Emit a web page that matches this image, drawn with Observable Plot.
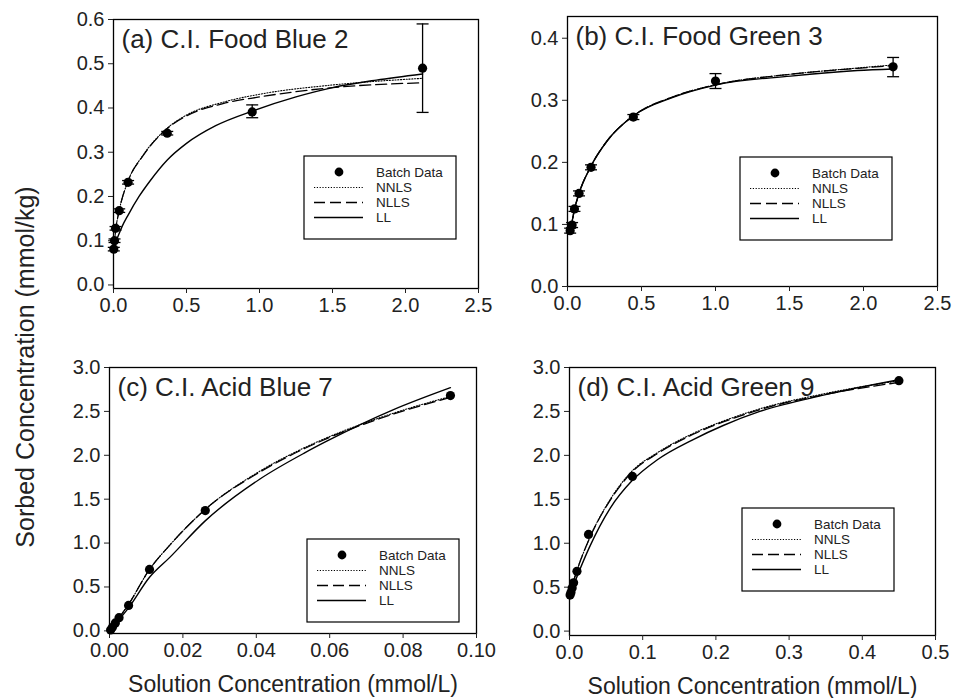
<!DOCTYPE html>
<html><head><meta charset="utf-8">
<script src="https://cdn.jsdelivr.net/npm/d3@7"></script>
<script src="https://cdn.jsdelivr.net/npm/@observablehq/plot@0.6"></script>
<style>
body{margin:0;background:#fff;}
#fig{position:relative;width:953px;height:698px;font-family:"Liberation Sans",Arial,sans-serif;background:#fff;}
.panel{position:absolute;}
.panel svg{overflow:visible;}
</style></head><body><div id="fig"></div>
<script>
// ---------- data ----------
const legendLabels = ["Batch Data", "NNLS", "NLLS", "LL"];
const yAxisLabel = "Sorbed Concentration (mmol/kg)";
const xAxisLabel = "Solution Concentration (mmol/L)";

// (a) C.I. Food Blue 2
const aTitle = "(a) C.I. Food Blue 2";
const aX  = [0.002, 0.007, 0.014, 0.039, 0.100, 0.368, 0.950, 2.117];
const aY  = [0.081, 0.100, 0.128, 0.168, 0.232, 0.343, 0.391, 0.490];
const aLo = [0.077, 0.096, 0.124, 0.164, 0.228, 0.339, 0.378, 0.390];
const aHi = [0.085, 0.104, 0.132, 0.172, 0.236, 0.347, 0.407, 0.590];
const aNNLS = [[0,0.080],[0.007,0.100],[0.014,0.122],[0.039,0.168],[0.10,0.235],[0.2,0.292],[0.37,0.355],[0.5,0.384],[0.75,0.413],[1.0,0.431],[1.5,0.452],[2.117,0.467]];
const aNLLS = [[0,0.080],[0.007,0.100],[0.014,0.122],[0.039,0.168],[0.10,0.235],[0.2,0.291],[0.37,0.354],[0.5,0.382],[0.75,0.410],[1.0,0.425],[1.5,0.446],[2.117,0.457]];
const aLL   = [[0,0.085],[0.025,0.105],[0.06,0.133],[0.1,0.158],[0.175,0.200],[0.25,0.235],[0.37,0.283],[0.5,0.320],[0.7,0.360],[0.96,0.394],[1.25,0.425],[1.5,0.446],[1.8,0.463],[2.117,0.477]];
const aXTicks = [0, 0.5, 1.0, 1.5, 2.0, 2.5];
const aYTicks = [0, 0.1, 0.2, 0.3, 0.4, 0.5, 0.6];

// (b) C.I. Food Green 3
const bTitle = "(b) C.I. Food Green 3";
const bX  = [0.018, 0.031, 0.047, 0.078, 0.159, 0.445, 1.000, 2.200];
const bY  = [0.090, 0.099, 0.125, 0.150, 0.192, 0.273, 0.331, 0.354];
const bLo = [0.086, 0.095, 0.121, 0.146, 0.188, 0.269, 0.319, 0.338];
const bHi = [0.094, 0.103, 0.129, 0.154, 0.196, 0.277, 0.343, 0.369];
const bNNLS = [[0.007,0.085],[0.03,0.104],[0.047,0.124],[0.078,0.150],[0.159,0.194],[0.266,0.234],[0.445,0.275],[0.717,0.306],[1.0,0.325],[1.507,0.342],[1.958,0.352],[2.2,0.357]];
const bNLLS = [[0.007,0.085],[0.03,0.104],[0.047,0.124],[0.078,0.150],[0.159,0.194],[0.266,0.234],[0.445,0.275],[0.717,0.306],[1.0,0.325],[1.507,0.342],[1.958,0.3515],[2.2,0.356]];
const bLL   = [[0.007,0.085],[0.03,0.104],[0.047,0.124],[0.078,0.150],[0.159,0.194],[0.266,0.234],[0.445,0.275],[0.717,0.305],[1.0,0.3245],[1.507,0.339],[1.958,0.348],[2.2,0.3505]];
const bXTicks = [0, 0.5, 1.0, 1.5, 2.0, 2.5];
const bYTicks = [0, 0.1, 0.2, 0.3, 0.4];

// (c) C.I. Acid Blue 7
const cTitle = "(c) C.I. Acid Blue 7";
const cX = [0.0003, 0.0008, 0.0016, 0.0026, 0.0052, 0.0109, 0.0261, 0.0929];
const cY = [0.01, 0.04, 0.09, 0.15, 0.29, 0.70, 1.37, 2.68];
const cNNLS = [[0,0],[0.0026,0.15],[0.005,0.29],[0.0109,0.70],[0.0165,0.98],[0.026,1.38],[0.041,1.82],[0.0533,2.09],[0.0592,2.20],[0.0774,2.48],[0.0929,2.67]];
const cNLLS = [[0,0],[0.0026,0.15],[0.005,0.29],[0.0109,0.70],[0.0165,0.98],[0.026,1.38],[0.041,1.81],[0.0533,2.08],[0.0592,2.19],[0.0774,2.47],[0.0929,2.66]];
const cLL   = [[0,0],[0.0026,0.13],[0.005,0.25],[0.0109,0.61],[0.0165,0.84],[0.026,1.25],[0.041,1.73],[0.0533,2.03],[0.0592,2.16],[0.0774,2.52],[0.0929,2.77]];
const cXTicks = [0, 0.02, 0.04, 0.06, 0.08, 0.10];
const cYTicks = [0, 0.5, 1.0, 1.5, 2.0, 2.5, 3.0];

// (d) C.I. Acid Green 9
const dTitle = "(d) C.I. Acid Green 9";
const dX = [0.0008, 0.002, 0.0036, 0.0056, 0.0102, 0.026, 0.086, 0.450];
const dY = [0.41, 0.44, 0.49, 0.55, 0.68, 1.10, 1.76, 2.85];
const dNNLS = [[0,0.40],[0.0036,0.515],[0.0102,0.69],[0.027,1.05],[0.0557,1.50],[0.0853,1.82],[0.12,2.03],[0.169,2.25],[0.21,2.39],[0.26,2.53],[0.347,2.70],[0.45,2.85]];
const dNLLS = [[0,0.40],[0.0036,0.515],[0.0102,0.69],[0.027,1.05],[0.0557,1.49],[0.0853,1.81],[0.12,2.02],[0.169,2.24],[0.21,2.38],[0.26,2.52],[0.347,2.69],[0.45,2.83]];
const dLL   = [[0,0.40],[0.0036,0.48],[0.0102,0.62],[0.027,0.95],[0.0557,1.40],[0.0853,1.71],[0.12,1.95],[0.169,2.18],[0.21,2.34],[0.26,2.50],[0.347,2.685],[0.45,2.86]];
const dXTicks = [0, 0.1, 0.2, 0.3, 0.4, 0.5];
const dYTicks = [0, 0.5, 1.0, 1.5, 2.0, 2.5, 3.0];

// ---------- drawing ----------
const FONT = "'Liberation Sans', Arial, Helvetica, sans-serif";
const TXT = "#222";
const capSymbol = {draw(ctx, size){ const r = Math.sqrt(size/Math.PI); ctx.moveTo(-r,0); ctx.lineTo(r,0); }};
const STY = {nnls: "1.2,1.6", nlls: "11,5"};

function panel(o){
  const idx = d3.range(o.X.length);
  const marks = [
    Plot.frame({stroke:"#000", strokeWidth:1.3}),
    Plot.axisX({ticks:o.xTicks, tickFormat:d3.format(o.xFmt), tickSize:5, tickPadding:4, fontSize:20, color:TXT, label:null}),
    Plot.axisY({ticks:o.yTicks, tickFormat:d3.format(".1f"), tickSize:5, tickPadding:4, fontSize:20, color:TXT, label:null}),
    Plot.line(o.nnls, {x:d=>d[0], y:d=>d[1], curve:"monotone-x", stroke:"#000", strokeWidth:1.1, strokeDasharray:STY.nnls}),
    Plot.line(o.nlls, {x:d=>d[0], y:d=>d[1], curve:"monotone-x", stroke:"#000", strokeWidth:1.3, strokeDasharray:STY.nlls}),
    Plot.line(o.ll,   {x:d=>d[0], y:d=>d[1], curve:"monotone-x", stroke:"#000", strokeWidth:1.4}),
  ];
  if (o.lo) {
    marks.push(Plot.ruleX(idx, {x:i=>o.X[i], y1:i=>o.lo[i], y2:i=>o.hi[i], stroke:"#000", strokeWidth:1.3}));
    marks.push(Plot.dot(idx, {x:i=>o.X[i], y:i=>o.lo[i], symbol:capSymbol, r:6, stroke:"#000", strokeWidth:1.3, fill:"none"}));
    marks.push(Plot.dot(idx, {x:i=>o.X[i], y:i=>o.hi[i], symbol:capSymbol, r:6, stroke:"#000", strokeWidth:1.3, fill:"none"}));
  }
  marks.push(Plot.dot(idx, {x:i=>o.X[i], y:i=>o.Y[i], r:4.6, fill:"#000", stroke:"none"}));
  marks.push(Plot.text([o.title], {text:d=>d, frameAnchor:"top-left", textAnchor:"start", lineAnchor:"top", dx:8, dy:10, fontSize:26, fill:TXT}));
  if (o.xLabel) marks.push(Plot.text([o.xLabel], {text:d=>d, frameAnchor:"bottom", dy:58, fontSize:23, fill:TXT}));

  const svg = Plot.plot({
    width:o.w, height:o.h,
    marginLeft:o.m[0], marginTop:o.m[1], marginRight:o.m[2], marginBottom:o.m[3],
    x:{domain:o.xDomain}, y:{domain:o.yDomain},
    style:{fontFamily:FONT, background:"transparent", overflow:"visible", color:TXT},
    marks
  });
  // legend box
  const g = d3.select(svg).append("g").attr("font-family", FONT).attr("font-size", 13.5)
    .attr("fill", TXT).attr("text-anchor", "start");
  const L = o.leg[0], T = o.leg[1];
  g.append("rect").attr("x", L).attr("y", T).attr("width", 152).attr("height", 83)
    .attr("fill", "none").attr("stroke", "#000").attr("stroke-width", 1.2);
  const rowsY = [16, 31.5, 46.5, 61.5];
  g.append("circle").attr("cx", L+35).attr("cy", T+rowsY[0]).attr("r", 4.4).attr("fill", "#000");
  const dashes = [STY.nnls, STY.nlls, null];
  const widths = [1.1, 1.3, 1.4];
  for (let k = 0; k < 3; k++) {
    const ln = g.append("line").attr("x1", L+10).attr("x2", L+59).attr("y1", T+rowsY[k+1]).attr("y2", T+rowsY[k+1])
      .attr("stroke", "#000").attr("stroke-width", widths[k]);
    if (dashes[k]) ln.attr("stroke-dasharray", dashes[k]);
  }
  legendLabels.forEach((t, k) => {
    g.append("text").attr("x", L+72).attr("y", T+rowsY[k]).attr("dy", "0.35em").attr("text-anchor", "start").text(t);
  });

  const div = document.createElement("div");
  div.className = "panel";
  div.style.left = o.pos[0] + "px"; div.style.top = o.pos[1] + "px";
  div.appendChild(svg);
  document.getElementById("fig").appendChild(div);
}

panel({pos:[0,0], w:490, h:330, m:[113,19,12,42], xDomain:[0,2.5], yDomain:[-0.008,0.6],
  xTicks:aXTicks, yTicks:aYTicks, xFmt:".1f", title:aTitle, X:aX, Y:aY, lo:aLo, hi:aHi,
  nnls:aNNLS, nlls:aNLLS, ll:aLL, leg:[304,156]});
panel({pos:[490,0], w:463, h:330, m:[77,16,16,44], xDomain:[0,2.5], yDomain:[0,0.435],
  xTicks:bXTicks, yTicks:bYTicks, xFmt:".1f", title:bTitle, X:bX, Y:bY, lo:bLo, hi:bHi,
  nnls:bNNLS, nlls:bNLLS, ll:bLL, leg:[250,157]});
panel({pos:[0,330], w:490, h:368, m:[109,37,14,65], xDomain:[0,0.1], yDomain:[-0.03,3.0],
  xTicks:cXTicks, yTicks:cYTicks, xFmt:".2f", title:cTitle, X:cX, Y:cY,
  nnls:cNNLS, nlls:cNLLS, ll:cLL, leg:[307,209], xLabel:xAxisLabel});
panel({pos:[490,330], w:463, h:368, m:[79,37,18,63], xDomain:[0,0.5], yDomain:[-0.05,3.0],
  xTicks:dXTicks, yTicks:dYTicks, xFmt:".1f", title:dTitle, X:dX, Y:dY,
  nnls:dNNLS, nlls:dNLLS, ll:dLL, leg:[252,178], xLabel:xAxisLabel});

// shared y-axis label
const ysvg = d3.select("#fig").append("svg").attr("width", 60).attr("height", 698)
  .style("position", "absolute").style("left", "0px").style("top", "0px");
ysvg.append("text").attr("transform", "translate(25,367) rotate(-90)")
  .attr("text-anchor", "middle").attr("dy", "0.35em")
  .attr("font-family", FONT).attr("font-size", 25).attr("fill", TXT).text(yAxisLabel);
</script></body></html>
